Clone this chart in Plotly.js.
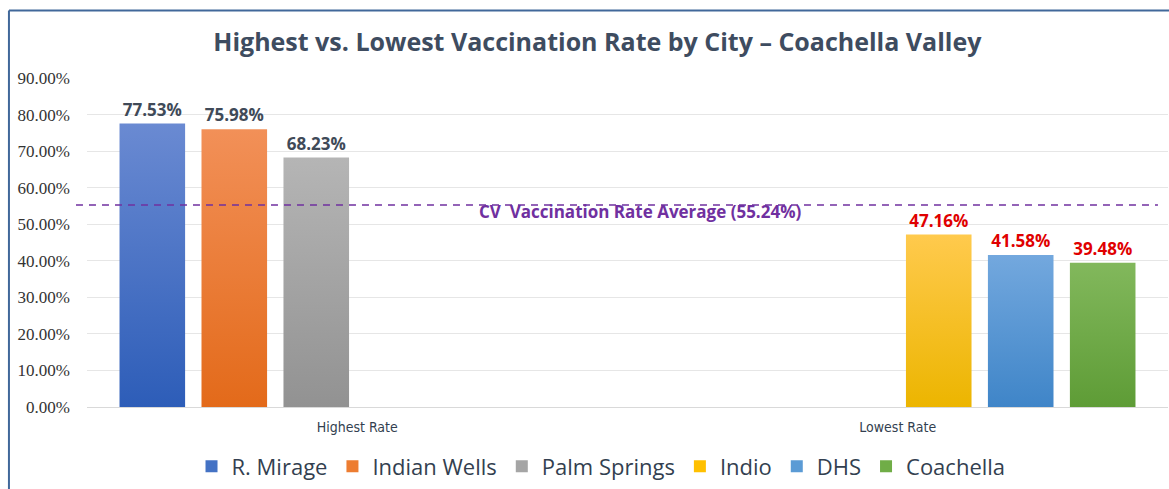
<!DOCTYPE html>
<html>
<head>
<meta charset="utf-8">
<script src="https://cdn.plot.ly/plotly-3.0.1.min.js"></script>
<style>
html,body{margin:0;padding:0;background:#fff;}
#chart{width:1169px;height:489px;}
</style>
</head>
<body>
<div id="chart"></div>
<script>
// ---- data ----
const categories = ["Highest Rate", "Lowest Rate"];
const seriesNames = ["R. Mirage", "Indian Wells", "Palm Springs", "Indio", "DHS", "Coachella"];
const rMirage     = [0.7753, null];
const indianWells = [0.7598, null];
const palmSprings = [0.6823, null];
const indio       = [null, 0.4716];
const dhs         = [null, 0.4158];
const coachella   = [null, 0.3948];
const cvAverage = 0.5524;
const averageLabel = "CV  Vaccination Rate Average (55.24%)";
const chartTitle = "Highest vs. Lowest Vaccination Rate by City \u2013 Coachella Valley";

// ---- styles ----
const seriesValues = [rMirage, indianWells, palmSprings, indio, dhs, coachella];
const solid = ["#4472c4", "#ed7d31", "#a5a5a5", "#ffc000", "#5b9bd5", "#70ad47"];
const gradTop = ["#6a8ad2", "#f29058", "#b5b5b5", "#ffca4d", "#73a8de", "#82b85c"];
const gradBot = ["#2d5db8", "#e36a1a", "#929292", "#ecb500", "#3f85c8", "#5e9c36"];
const labelColor = ["#404a58", "#404a58", "#404a58", "#e00000", "#e00000", "#e00000"];

const traces = seriesValues.map((vals, i) => ({
  type: "bar",
  name: seriesNames[i],
  x: categories,
  y: vals,
  marker: {color: solid[i], line: {width: 0}},
  texttemplate: "%{y:.2%}",
  textposition: "outside",
  cliponaxis: false,
  textfont: {family: "Open Sans, sans-serif", size: 17, color: labelColor[i], weight: 700},
  hoverinfo: "skip"
}));

const layout = {
  width: 1169, height: 489,
  margin: {l: 87, r: 1, t: 78, b: 80},
  paper_bgcolor: "#ffffff",
  plot_bgcolor: "#ffffff",
  barmode: "group",
  bargap: 0.09,
  bargroupgap: 0.2,
  showlegend: true,
  title: {
    text: chartTitle,
    font: {family: "Open Sans, sans-serif", size: 25, color: "#3e4c60", weight: 700},
    x: 0.511, xanchor: "center", xref: "container",
    y: 0.914, yanchor: "middle", yref: "container"
  },
  xaxis: {
    type: "category",
    showgrid: false,
    zeroline: false,
    showline: false,
    ticks: "",
    ticklabelstandoff: 10,
    tickfont: {family: "Liberation Sans Narrow, DejaVu Sans Condensed, sans-serif", size: 14, color: "#333f50"},
    fixedrange: true
  },
  yaxis: {
    range: [0, 0.9],
    dtick: 0.1,
    tick0: 0,
    tickformat: ".2%",
    showgrid: true,
    gridcolor: "#e6e6e6",
    gridwidth: 1,
    zeroline: true,
    zerolinecolor: "#d9d9d9",
    zerolinewidth: 1,
    showline: false,
    ticks: "",
    ticklabelstandoff: 16,
    tickfont: {family: "Liberation Serif, serif", size: 17, color: "#333333"},
    fixedrange: true
  },
  legend: {
    orientation: "h",
    x: 0.4755, xanchor: "center",
    y: -0.181, yanchor: "middle",
    font: {family: "Open Sans, sans-serif", size: 22, color: "#333f50"},
    itemclick: false, itemdoubleclick: false,
    traceorder: "normal"
  },
  shapes: [
    {type: "line", xref: "paper", yref: "y", x0: -0.0102, x1: 0.9907, y0: cvAverage, y1: cvAverage,
     line: {color: "#7030a0", width: 1.5, dash: "7px,6px"}},
    // frame
    {type: "line", xref: "paper", yref: "paper", x0: -0.0722, x1: -0.0722, y0: -0.4, y1: 1.2054,
     line: {color: "#41689a", width: 2}},
    {type: "line", xref: "paper", yref: "paper", x0: -0.0722, x1: 1.05, y0: 1.2054, y1: 1.2054,
     line: {color: "#41689a", width: 2}}
  ],
  annotations: [
    {xref: "paper", yref: "y", x: 0.5116, y: 0.536, xanchor: "center", yanchor: "middle",
     text: averageLabel, showarrow: false,
     font: {family: "Open Sans, sans-serif", size: 17, color: "#7030a0", weight: 700}}
  ]
};

Plotly.newPlot("chart", traces, layout, {displayModeBar: false, staticPlot: true}).then(gd => {
  // vertical gradients on bars (styling only)
  const svg = gd.querySelector("svg.main-svg");
  const ns = "http://www.w3.org/2000/svg";
  let defs = svg.querySelector("defs");
  if (!defs) { defs = document.createElementNS(ns, "defs"); svg.insertBefore(defs, svg.firstChild); }
  seriesValues.forEach((v, i) => {
    const g = document.createElementNS(ns, "linearGradient");
    g.setAttribute("id", "bargrad" + i);
    g.setAttribute("x1", "0"); g.setAttribute("y1", "0");
    g.setAttribute("x2", "0"); g.setAttribute("y2", "1");
    const s1 = document.createElementNS(ns, "stop");
    s1.setAttribute("offset", "0"); s1.setAttribute("stop-color", gradTop[i]);
    const s2 = document.createElementNS(ns, "stop");
    s2.setAttribute("offset", "1"); s2.setAttribute("stop-color", gradBot[i]);
    g.appendChild(s1); g.appendChild(s2);
    defs.appendChild(g);
  });
  const traceGroups = gd.querySelectorAll(".barlayer .trace.bars");
  traceGroups.forEach((tg, i) => {
    tg.querySelectorAll("path").forEach(p => { p.style.fill = "url(#bargrad" + i + ")"; });
  });
});
</script>
</body>
</html>
